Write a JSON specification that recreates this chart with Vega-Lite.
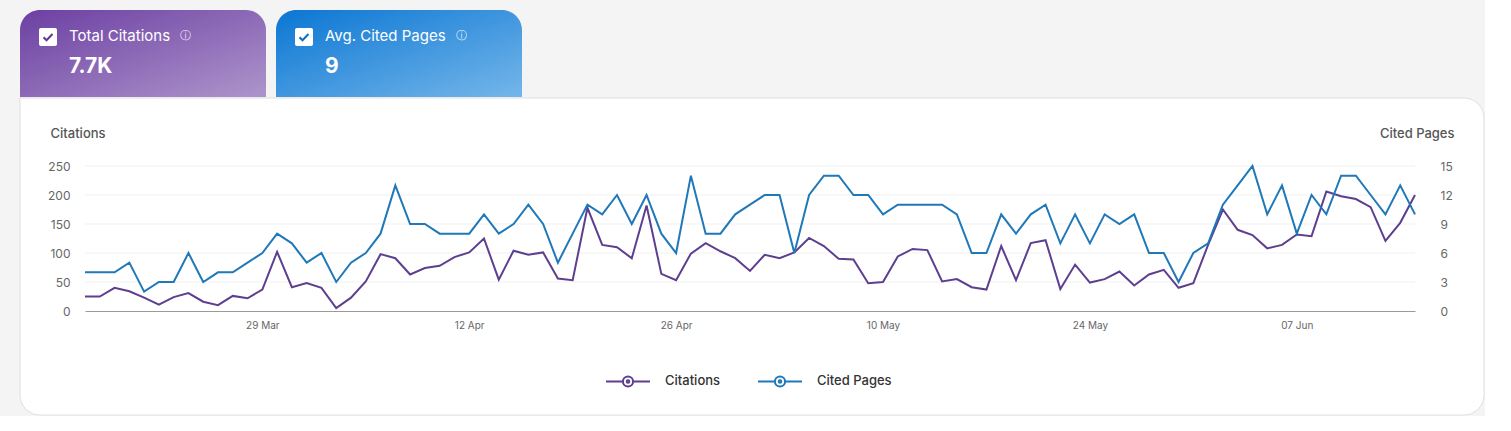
{
  "$schema": "https://vega.github.io/schema/vega-lite/v6.json",
  "background": "#f4f4f4",
  "padding": {"left": 19, "top": 10, "right": 0, "bottom": 0},
  "config": {
    "font": "Inter",
    "view": {"stroke": null},
    "axis": {"labelFont": "Inter", "titleFont": "Inter"},
    "legend": {"labelFont": "Inter"}
  },
  "spacing": 0,
  "vconcat": [
    {
      "spacing": 10,
      "hconcat": [
        {
          "width": 246,
          "height": 87,
          "data": {"values": [{"label": "Total Citations", "value": "7.7K"}]},
          "layer": [
            {"mark": {"type": "rect", "fill": {"gradient": "linear", "x1": 0, "y1": 0, "x2": 1, "y2": 1, "stops": [{"offset": 0, "color": "#6c3fa2"}, {"offset": 1, "color": "#ad95cb"}]}, "cornerRadiusTopLeft": 20, "cornerRadiusTopRight": 20, "strokeWidth": 0}},
            {"mark": {"type": "point", "shape": "M-0.78,-1H0.78A0.22,0.22,0,0,1,1,-0.78V0.78A0.22,0.22,0,0,1,0.78,1H-0.78A0.22,0.22,0,0,1,-1,0.78V-0.78A0.22,0.22,0,0,1,-0.78,-1Z", "size": 324, "filled": true, "fill": "white", "opacity": 1, "strokeWidth": 0, "xOffset": -95, "yOffset": -16.5}},
            {"mark": {"type": "point", "shape": "M-0.45,0.02L-0.15,0.32L0.45,-0.3", "size": 400, "filled": false, "stroke": "#5e3a93", "strokeWidth": 2, "opacity": 1, "xOffset": -95, "yOffset": -16.5}},
            {"mark": {"type": "text", "align": "left", "baseline": "middle", "fontSize": 15, "color": "white", "dx": -74, "dy": -17.5}, "encoding": {"text": {"field": "label"}}},
            {"mark": {"type": "text", "align": "center", "baseline": "middle", "fontSize": 11, "color": "white", "opacity": 0.85, "text": "ⓘ", "dx": 42, "dy": -18}},
            {"mark": {"type": "text", "align": "left", "baseline": "middle", "fontSize": 21, "fontWeight": "bold", "color": "white", "dx": -74, "dy": 13.5}, "encoding": {"text": {"field": "value"}}}
          ]
        },
        {
          "width": 246,
          "height": 87,
          "data": {"values": [{"label": "Avg. Cited Pages", "value": "9"}]},
          "layer": [
            {"mark": {"type": "rect", "fill": {"gradient": "linear", "x1": 0, "y1": 0, "x2": 1, "y2": 1, "stops": [{"offset": 0, "color": "#0b76d3"}, {"offset": 1, "color": "#74b6ea"}]}, "cornerRadiusTopLeft": 20, "cornerRadiusTopRight": 20, "strokeWidth": 0}},
            {"mark": {"type": "point", "shape": "M-0.78,-1H0.78A0.22,0.22,0,0,1,1,-0.78V0.78A0.22,0.22,0,0,1,0.78,1H-0.78A0.22,0.22,0,0,1,-1,0.78V-0.78A0.22,0.22,0,0,1,-0.78,-1Z", "size": 324, "filled": true, "fill": "white", "opacity": 1, "strokeWidth": 0, "xOffset": -95, "yOffset": -16.5}},
            {"mark": {"type": "point", "shape": "M-0.45,0.02L-0.15,0.32L0.45,-0.3", "size": 400, "filled": false, "stroke": "#0b6fc4", "strokeWidth": 2, "opacity": 1, "xOffset": -95, "yOffset": -16.5}},
            {"mark": {"type": "text", "align": "left", "baseline": "middle", "fontSize": 15, "color": "white", "dx": -74, "dy": -17.5}, "encoding": {"text": {"field": "label"}}},
            {"mark": {"type": "text", "align": "center", "baseline": "middle", "fontSize": 11, "color": "white", "opacity": 0.85, "text": "ⓘ", "dx": 62, "dy": -18}},
            {"mark": {"type": "text", "align": "left", "baseline": "middle", "fontSize": 21, "fontWeight": "bold", "color": "white", "dx": -74, "dy": 13.5}, "encoding": {"text": {"field": "value"}}}
          ]
        }
      ]
    },
    {
      "width": 1464,
      "height": 317,
      "data": {"values": [
        {"date": "2025-03-17", "citations": 25, "pages": 4},
        {"date": "2025-03-18", "citations": 25, "pages": 4},
        {"date": "2025-03-19", "citations": 40, "pages": 4},
        {"date": "2025-03-20", "citations": 34, "pages": 5},
        {"date": "2025-03-21", "citations": 23, "pages": 2},
        {"date": "2025-03-22", "citations": 11, "pages": 3},
        {"date": "2025-03-23", "citations": 24, "pages": 3},
        {"date": "2025-03-24", "citations": 31, "pages": 6},
        {"date": "2025-03-25", "citations": 16, "pages": 3},
        {"date": "2025-03-26", "citations": 10, "pages": 4},
        {"date": "2025-03-27", "citations": 26, "pages": 4},
        {"date": "2025-03-28", "citations": 22, "pages": 5},
        {"date": "2025-03-29", "citations": 37, "pages": 6},
        {"date": "2025-03-30", "citations": 102, "pages": 8},
        {"date": "2025-03-31", "citations": 41, "pages": 7},
        {"date": "2025-04-01", "citations": 48, "pages": 5},
        {"date": "2025-04-02", "citations": 40, "pages": 6},
        {"date": "2025-04-03", "citations": 5, "pages": 3},
        {"date": "2025-04-04", "citations": 23, "pages": 5},
        {"date": "2025-04-05", "citations": 51, "pages": 6},
        {"date": "2025-04-06", "citations": 98, "pages": 8},
        {"date": "2025-04-07", "citations": 91, "pages": 13},
        {"date": "2025-04-08", "citations": 63, "pages": 9},
        {"date": "2025-04-09", "citations": 74, "pages": 9},
        {"date": "2025-04-10", "citations": 78, "pages": 8},
        {"date": "2025-04-11", "citations": 93, "pages": 8},
        {"date": "2025-04-12", "citations": 101, "pages": 8},
        {"date": "2025-04-13", "citations": 125, "pages": 10},
        {"date": "2025-04-14", "citations": 54, "pages": 8},
        {"date": "2025-04-15", "citations": 104, "pages": 9},
        {"date": "2025-04-16", "citations": 97, "pages": 11},
        {"date": "2025-04-17", "citations": 101, "pages": 9},
        {"date": "2025-04-18", "citations": 56, "pages": 5},
        {"date": "2025-04-19", "citations": 53, "pages": 8},
        {"date": "2025-04-20", "citations": 178, "pages": 11},
        {"date": "2025-04-21", "citations": 114, "pages": 10},
        {"date": "2025-04-22", "citations": 110, "pages": 12},
        {"date": "2025-04-23", "citations": 91, "pages": 9},
        {"date": "2025-04-24", "citations": 182, "pages": 12},
        {"date": "2025-04-25", "citations": 64, "pages": 8},
        {"date": "2025-04-26", "citations": 53, "pages": 6},
        {"date": "2025-04-27", "citations": 99, "pages": 14},
        {"date": "2025-04-28", "citations": 117, "pages": 8},
        {"date": "2025-04-29", "citations": 103, "pages": 8},
        {"date": "2025-04-30", "citations": 91, "pages": 10},
        {"date": "2025-05-01", "citations": 69, "pages": 11},
        {"date": "2025-05-02", "citations": 97, "pages": 12},
        {"date": "2025-05-03", "citations": 91, "pages": 12},
        {"date": "2025-05-04", "citations": 101, "pages": 6},
        {"date": "2025-05-05", "citations": 126, "pages": 12},
        {"date": "2025-05-06", "citations": 112, "pages": 14},
        {"date": "2025-05-07", "citations": 90, "pages": 14},
        {"date": "2025-05-08", "citations": 89, "pages": 12},
        {"date": "2025-05-09", "citations": 48, "pages": 12},
        {"date": "2025-05-10", "citations": 50, "pages": 10},
        {"date": "2025-05-11", "citations": 94, "pages": 11},
        {"date": "2025-05-12", "citations": 107, "pages": 11},
        {"date": "2025-05-13", "citations": 105, "pages": 11},
        {"date": "2025-05-14", "citations": 51, "pages": 11},
        {"date": "2025-05-15", "citations": 55, "pages": 10},
        {"date": "2025-05-16", "citations": 41, "pages": 6},
        {"date": "2025-05-17", "citations": 37, "pages": 6},
        {"date": "2025-05-18", "citations": 112, "pages": 10},
        {"date": "2025-05-19", "citations": 53, "pages": 8},
        {"date": "2025-05-20", "citations": 117, "pages": 10},
        {"date": "2025-05-21", "citations": 122, "pages": 11},
        {"date": "2025-05-22", "citations": 38, "pages": 7},
        {"date": "2025-05-23", "citations": 80, "pages": 10},
        {"date": "2025-05-24", "citations": 49, "pages": 7},
        {"date": "2025-05-25", "citations": 55, "pages": 10},
        {"date": "2025-05-26", "citations": 68, "pages": 9},
        {"date": "2025-05-27", "citations": 44, "pages": 10},
        {"date": "2025-05-28", "citations": 63, "pages": 6},
        {"date": "2025-05-29", "citations": 71, "pages": 6},
        {"date": "2025-05-30", "citations": 40, "pages": 3},
        {"date": "2025-05-31", "citations": 48, "pages": 6},
        {"date": "2025-06-01", "citations": 114, "pages": 7},
        {"date": "2025-06-02", "citations": 175, "pages": 11},
        {"date": "2025-06-03", "citations": 140, "pages": 13},
        {"date": "2025-06-04", "citations": 131, "pages": 15},
        {"date": "2025-06-05", "citations": 108, "pages": 10},
        {"date": "2025-06-06", "citations": 114, "pages": 13},
        {"date": "2025-06-07", "citations": 132, "pages": 8},
        {"date": "2025-06-08", "citations": 129, "pages": 12},
        {"date": "2025-06-09", "citations": 206, "pages": 10},
        {"date": "2025-06-10", "citations": 198, "pages": 14},
        {"date": "2025-06-11", "citations": 193, "pages": 14},
        {"date": "2025-06-12", "citations": 179, "pages": 12},
        {"date": "2025-06-13", "citations": 121, "pages": 10},
        {"date": "2025-06-14", "citations": 152, "pages": 13},
        {"date": "2025-06-15", "citations": 200, "pages": 10}
      ]},
      "layer": [
        {
          "data": {"values": [{"panel": "chart"}]},
          "mark": {"type": "rect", "fill": "white", "stroke": "#e0e0e0", "strokeWidth": 1, "cornerRadiusTopRight": 20, "cornerRadiusBottomLeft": 20, "cornerRadiusBottomRight": 20}
        },
        {
          "data": {"values": [{"grid": 50}, {"grid": 100}, {"grid": 150}, {"grid": 200}, {"grid": 250}]},
          "mark": {"type": "rule", "color": "#f1f1f1", "strokeWidth": 1},
          "encoding": {
            "x": {"datum": {"year": 2025, "month": 3, "date": 17, "utc": true}, "type": "temporal"},
            "x2": {"datum": {"year": 2025, "month": 6, "date": 15, "utc": true}},
            "y": {"field": "grid", "type": "quantitative", "scale": {"domain": [0, 250], "range": [213, 68], "nice": false}, "axis": null}
          }
        },
        {
          "mark": {"type": "line", "strokeWidth": 2},
          "encoding": {
            "x": {
              "field": "date",
              "type": "temporal",
              "scale": {
                "type": "utc",
                "domain": [{"year": 2025, "month": 3, "date": 17, "utc": true}, {"year": 2025, "month": 6, "date": 15, "utc": true}],
                "range": [65, 1395]
              },
              "axis": {
                "orient": "bottom",
                "offset": -104,
                "zindex": 1,
                "title": null,
                "grid": false,
                "ticks": false,
                "domainColor": "#9a9a9a",
                "domainWidth": 1,
                "labelPadding": 9,
                "labelFontSize": 10,
                "labelColor": "#666666",
                "format": "%d %b",
                "values": [
                  {"year": 2025, "month": 3, "date": 29, "utc": true},
                  {"year": 2025, "month": 4, "date": 12, "utc": true},
                  {"year": 2025, "month": 4, "date": 26, "utc": true},
                  {"year": 2025, "month": 5, "date": 10, "utc": true},
                  {"year": 2025, "month": 5, "date": 24, "utc": true},
                  {"year": 2025, "month": 6, "date": 7, "utc": true}
                ]
              }
            },
            "y": {
              "field": "citations",
              "type": "quantitative",
              "scale": {"domain": [0, 250], "range": [213, 68], "nice": false},
              "axis": {
                "orient": "left",
                "offset": -65,
                "zindex": 1,
                "values": [0, 50, 100, 150, 200, 250],
                "domain": false,
                "ticks": false,
                "grid": false,
                "labelPadding": 15,
                "labelFontSize": 12,
                "labelColor": "#666666",
                "title": "Citations",
                "titleAngle": 0,
                "titleAlign": "left",
                "titleBaseline": "middle",
                "titleX": -35,
                "titleY": 35,
                "titleFontSize": 13,
                "titleFontWeight": 500,
                "titleColor": "#555555"
              }
            },
            "color": {
              "datum": "Citations",
              "type": "nominal",
              "scale": {"domain": ["Citations", "Cited Pages"], "range": ["#5e3f8f", "#1f78b8"]},
              "legend": {
                "orient": "none",
                "legendX": 585,
                "legendY": 348,
                "direction": "horizontal",
                "title": null,
                "padding": 0,
                "symbolType": "M-1,0H-0.23M0.23,0H1M0.23,0A0.23,0.23,0,1,1,-0.23,0A0.23,0.23,0,1,1,0.23,0ZM0.06,0A0.06,0.06,0,1,1,-0.06,0A0.06,0.06,0,1,1,0.06,0Z",
                "symbolSize": 1936,
                "symbolStrokeWidth": 2,
                "labelOffset": 14,
                "columnPadding": 33,
                "labelFontSize": 13,
                "labelFontWeight": 500,
                "labelColor": "#333333"
              }
            }
          }
        },
        {
          "mark": {"type": "line", "strokeWidth": 2},
          "encoding": {
            "x": {"field": "date", "type": "temporal"},
            "y": {
              "field": "pages",
              "type": "quantitative",
              "scale": {"domain": [0, 15], "range": [213, 68], "nice": false},
              "axis": {
                "orient": "right",
                "offset": -69,
                "zindex": 1,
                "values": [0, 3, 6, 9, 12, 15],
                "domain": false,
                "ticks": false,
                "grid": false,
                "labelPadding": 25,
                "labelFontSize": 12,
                "labelColor": "#666666",
                "title": "Cited Pages",
                "titleAngle": 0,
                "titleAlign": "right",
                "titleBaseline": "middle",
                "titleX": 39,
                "titleY": 35,
                "titleFontSize": 13,
                "titleFontWeight": 500,
                "titleColor": "#555555"
              }
            },
            "color": {"datum": "Cited Pages", "type": "nominal"}
          }
        }
      ],
      "resolve": {"scale": {"y": "independent"}}
    }
  ]
}
